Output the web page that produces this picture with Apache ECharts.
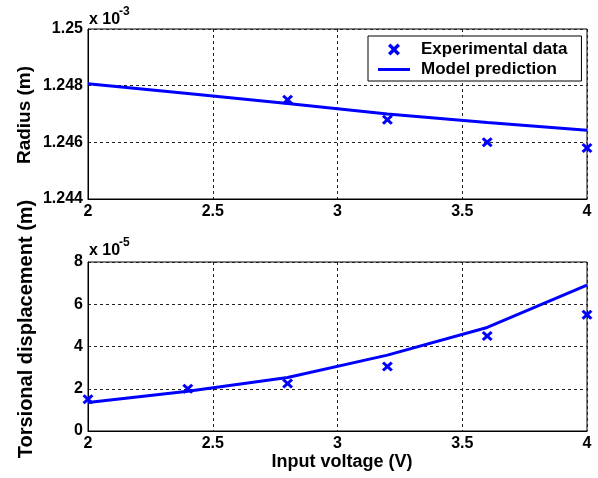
<!DOCTYPE html>
<html>
<head>
<meta charset="utf-8">
<script src="https://cdn.jsdelivr.net/npm/echarts@6/dist/echarts.min.js"></script>
<style>
html,body{margin:0;padding:0;background:#fff;}
#chart{width:598px;height:478px;}
</style>
</head>
<body>
<div id="chart"></div>
<script>
// ---- Data ----
const voltage = [2.0, 2.4, 2.8, 3.2, 3.6, 4.0];                 // Input voltage (V)
const radiusExpVoltage = [2.8, 3.2, 3.6, 4.0];                  // voltages with measured radius
const radiusExp = [1.2475, 1.2468, 1.2460, 1.2458];             // Radius (x 1e-3 m), experimental
const radiusModel = [1.24807, 1.24772, 1.24737, 1.24700, 1.24670, 1.24643]; // Radius (x 1e-3 m), model
const torsionExp = [1.5, 2.0, 2.25, 3.05, 4.5, 5.5];            // Torsional displacement (x 1e-5 m), experimental
const torsionModel = [1.35, 1.88, 2.53, 3.59, 4.9, 6.9];        // Torsional displacement (x 1e-5 m), model
const xTicks = { min: 2, max: 4, interval: 0.5 };
const radiusTicks = { min: 1.244, max: 1.25, interval: 0.002 };
const torsionTicks = { min: 0, max: 8, interval: 2 };

const FONT = "'Liberation Sans', Arial, Helvetica, sans-serif";
const BLUE = '#0000ff';
const X_PATH = 'path://M0,2L2,0L5,3L8,0L10,2L7,5L10,8L8,10L5,7L2,10L0,8L3,5Z';
const LINE_ICON = 'path://M0,0L32,0L32,3L0,3Z';

const pair = (xs, ys) => xs.map((x, i) => [x, ys[i]]);

const chart = echarts.init(document.getElementById('chart'), null, { renderer: 'canvas' });

const labelStyle = { color: '#000', fontFamily: FONT, fontWeight: 'bold', fontSize: 16 };
const gridLine = { show: true, lineStyle: { color: '#222', width: 1, type: [3, 3] } };

function xAxis(gridIndex) {
  return {
    type: 'value', gridIndex, min: xTicks.min, max: xTicks.max, interval: xTicks.interval,
    axisLine: { show: true, onZero: false, lineStyle: { color: '#000', width: 1 } },
    axisTick: { show: false },
    axisLabel: Object.assign({ margin: 5 }, labelStyle),
    splitLine: gridLine
  };
}
function yAxis(gridIndex, t, fmt) {
  return {
    type: 'value', gridIndex, min: t.min, max: t.max, interval: t.interval,
    axisLine: { show: true, onZero: false, lineStyle: { color: '#000', width: 1 } },
    axisTick: { show: false },
    axisLabel: Object.assign({ margin: 5, formatter: fmt }, labelStyle),
    splitLine: gridLine
  };
}

const option = {
  backgroundColor: '#fff',
  animation: false,
  grid: [
    { left: 88, top: 29, width: 499, height: 170, show: true, borderColor: '#000', borderWidth: 1, backgroundColor: 'transparent' },
    { left: 88, top: 262, width: 499, height: 169, show: true, borderColor: '#000', borderWidth: 1, backgroundColor: 'transparent' }
  ],
  xAxis: [xAxis(0), xAxis(1)],
  yAxis: [
    yAxis(0, radiusTicks, v => String(+v.toFixed(3))),
    yAxis(1, torsionTicks, v => String(+v.toFixed(1)))
  ],
  legend: {
    left: 368, top: 36, orient: 'vertical',
    backgroundColor: '#fff', borderColor: '#000', borderWidth: 1,
    padding: [5, 14, 3, 10], itemGap: 3, itemWidth: 32, itemHeight: 12,
    textStyle: { color: '#000', fontFamily: FONT, fontWeight: 'bold', fontSize: 17, padding: [0, 0, 0, 6] },
    selectedMode: false,
    data: [
      { name: 'Experimental data', icon: X_PATH, itemStyle: { color: BLUE, opacity: 1 } },
      { name: 'Model prediction', icon: LINE_ICON, itemStyle: { color: BLUE, opacity: 1 } }
    ]
  },
  series: [
    {
      name: 'Model prediction', type: 'line', xAxisIndex: 0, yAxisIndex: 0,
      data: pair(voltage, radiusModel), showSymbol: false, symbol: 'none',
      lineStyle: { color: BLUE, width: 3 }, itemStyle: { color: BLUE }, z: 3
    },
    {
      name: 'Experimental data', type: 'scatter', xAxisIndex: 0, yAxisIndex: 0,
      data: pair(radiusExpVoltage, radiusExp), symbol: X_PATH, symbolSize: [11, 10],
      itemStyle: { color: BLUE, opacity: 1 }, z: 4, clip: false
    },
    {
      name: 'Model prediction', type: 'line', xAxisIndex: 1, yAxisIndex: 1,
      data: pair(voltage, torsionModel), showSymbol: false, symbol: 'none',
      lineStyle: { color: BLUE, width: 3 }, itemStyle: { color: BLUE }, z: 3
    },
    {
      name: 'Experimental data', type: 'scatter', xAxisIndex: 1, yAxisIndex: 1,
      data: pair(voltage, torsionExp), symbol: X_PATH, symbolSize: [11, 10],
      itemStyle: { color: BLUE, opacity: 1 }, z: 4, clip: false
    }
  ],
  graphic: [
    { type: 'text', x: 89, y: 20, style: { text: 'x 10', font: `bold 16px ${FONT}`, fill: '#000', textVerticalAlign: 'middle' } },
    { type: 'text', x: 119, y: 12, style: { text: '-3', font: `bold 12px ${FONT}`, fill: '#000', textVerticalAlign: 'middle' } },
    { type: 'text', x: 89, y: 251, style: { text: 'x 10', font: `bold 16px ${FONT}`, fill: '#000', textVerticalAlign: 'middle' } },
    { type: 'text', x: 119, y: 243, style: { text: '-5', font: `bold 12px ${FONT}`, fill: '#000', textVerticalAlign: 'middle' } },
    { type: 'text', x: 25, y: 115, rotation: Math.PI / 2, style: { text: 'Radius (m)', font: `bold 19px ${FONT}`, fill: '#000', textAlign: 'center', textVerticalAlign: 'middle' } },
    { type: 'text', x: 26, y: 329, rotation: Math.PI / 2, style: { text: 'Torsional displacement (m)', font: `bold 20px ${FONT}`, fill: '#000', textAlign: 'center', textVerticalAlign: 'middle' } },
    { type: 'text', x: 342, y: 462, style: { text: 'Input voltage (V)', font: `bold 18px ${FONT}`, fill: '#000', textAlign: 'center', textVerticalAlign: 'middle' } }
  ]
};
chart.setOption(option);
</script>
</body>
</html>
